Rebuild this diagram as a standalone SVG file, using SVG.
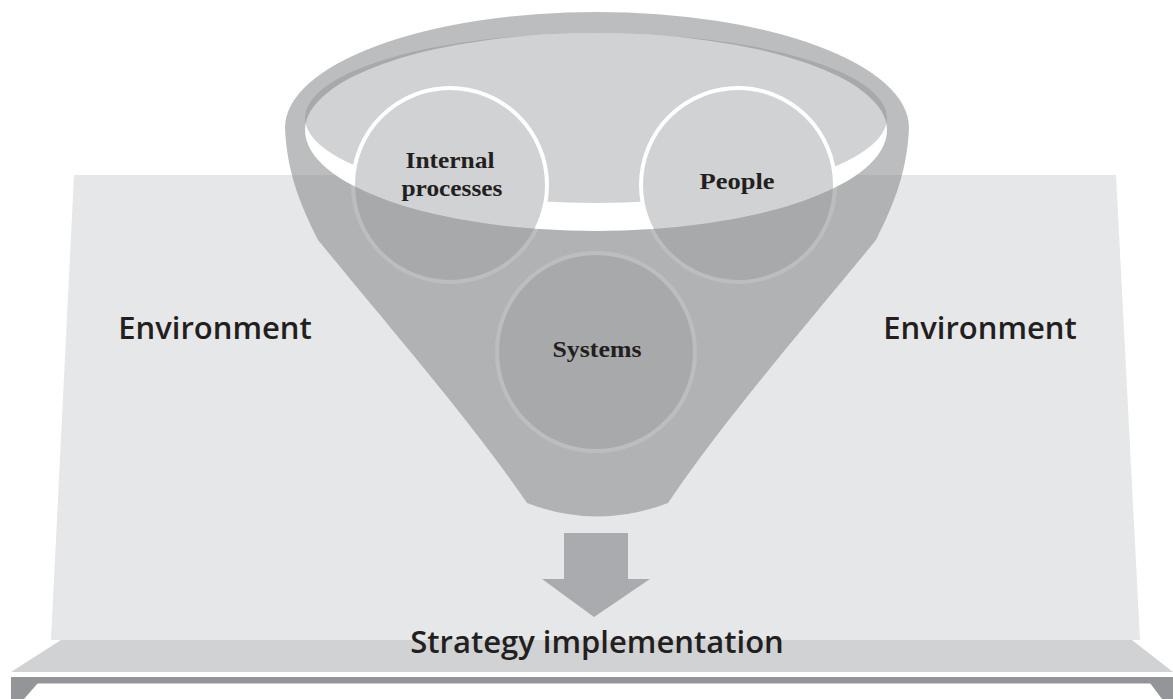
<svg xmlns="http://www.w3.org/2000/svg" width="1173" height="699" viewBox="0 0 1173 699">
<style>
.env{font-family:"Open Sans","Liberation Sans",sans-serif;font-weight:600;font-size:31px;fill:#231f20;text-anchor:middle}
.lbl{font-family:"Liberation Serif","DejaVu Serif",serif;font-weight:bold;font-size:24px;fill:#231f20;text-anchor:middle}
.ball{fill:#d1d2d4;stroke:#ffffff;stroke-width:4}
</style>
<rect width="1173" height="699" fill="#ffffff"/>
<g id="environment">
<polygon points="74,175 1116,175 1140,640 51,640" fill="#e6e7e8"/>
<text class="env" x="215" y="339">Environment</text>
<text class="env" x="980" y="339">Environment</text>
</g>
<g id="platform">
<polygon points="61,640 1132,640 1173,672 11,672" fill="#d1d2d4"/>
<rect x="11" y="677" width="1162" height="6.5" fill="#939598"/>
<polygon points="11,683 38,683 24,699 11,699" fill="#939598"/>
<polygon points="1150,683 1173,683 1173,699 1162,699" fill="#939598"/>
<text class="env" x="597" y="653" font-size="34">Strategy implementation</text>
</g>
<g id="funnel-opening">
<path d="M305,130 A291,97 0 0 1 887,130 A291,101 0 0 1 305,130 Z" fill="#ffffff"/>
<ellipse cx="596" cy="118" rx="291" ry="85" fill="#d1d2d4"/>
</g>
<g id="internal-processes">
<circle class="ball" cx="450" cy="185" r="97"/>
</g>
<g id="people">
<circle class="ball" cx="738" cy="185" r="97"/>
</g>
<g id="systems">
<circle class="ball" cx="596" cy="352" r="99"/>
</g>
<g id="funnel-body">
<path fill="#88898b" fill-opacity="0.56" fill-rule="evenodd" d="M285,128 A312,116 0 0 1 909,128 C907,170 896,200 876,240 C794,340 724,420 668,503 Q597,530 527,503 C470,420 400,340 318,240 C298,200 287,170 285,128 Z M305,130 A291,97 0 0 1 887,130 A291,101 0 0 1 305,130 Z"/>
</g>
<g id="labels">
<text class="lbl" x="450" y="168" textLength="89" lengthAdjust="spacingAndGlyphs">Internal</text>
<text class="lbl" x="452" y="196" textLength="101" lengthAdjust="spacingAndGlyphs">processes</text>
<text class="lbl" x="737" y="189" textLength="75" lengthAdjust="spacingAndGlyphs">People</text>
<text class="lbl" x="597" y="357" textLength="89" lengthAdjust="spacingAndGlyphs">Systems</text>
</g>
<g id="connectors">
<polygon points="564,533 628,533 628,579 650,579 594,617 542,579 564,579" fill="#a9abae"/>
</g>
</svg>
